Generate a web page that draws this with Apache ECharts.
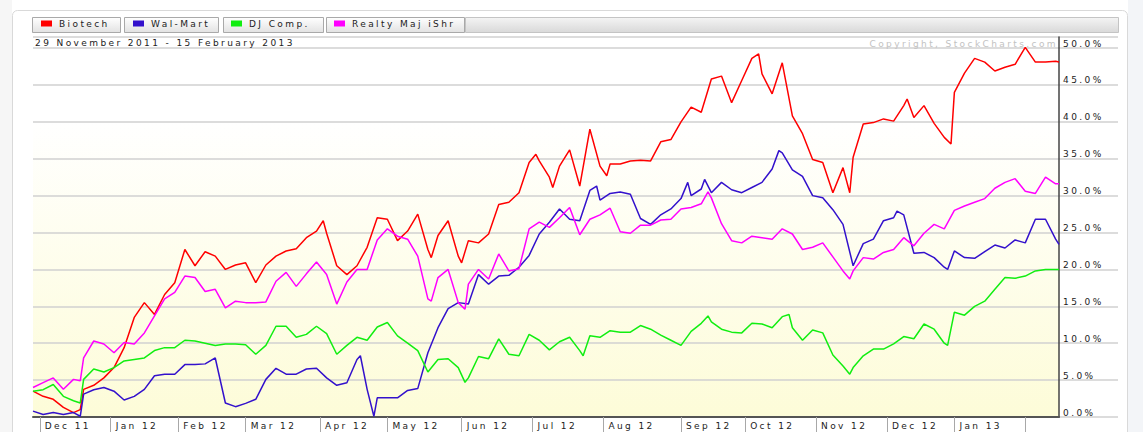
<!DOCTYPE html>
<html>
<head>
<meta charset="utf-8">
<title>Biotech vs Wal-Mart vs DJ Comp. vs Realty</title>
<script src="https://cdn.jsdelivr.net/npm/echarts@6/dist/echarts.min.js"></script>
<style>
    html, body { margin: 0; padding: 0; background: #fff; }
    #chart { width: 1143px; height: 432px; }
    /* stockcharts text is drawn wide, fake it with spacing */
    #chart text { letter-spacing: 2.4px; }
</style>
</head>
<body>
<div id="chart"></div>
<script>
// x = trading day since 29 Nov 2011, y = % change
var biotech = [[0,3.5],[3,2.8],[6,2.4],[9,1.3],[12,0.6],[14,1.0],[15,3.75],[18,4.3],[21,5.3],[24,6.7],[27,9.4],[30,13.5],[33,15.5],[36,13.9],[39,16.6],[42,18.2],[45,22.7],[48,20.5],[51,22.4],[54,21.8],[57,20.0],[60,20.6],[63,20.9],[66,18.2],[69,20.6],[72,21.8],[75,22.5],[78,22.8],[81,24.3],[84,25.2],[86,26.6],[87,24.9],[90,20.5],[93,19.3],[96,20.5],[99,23.0],[102,27.0],[105,26.8],[108,23.9],[111,25.2],[114,27.5],[117,22.7],[118,21.6],[120,24.6],[123,26.6],[126,21.8],[127,20.9],[129,23.9],[132,23.6],[135,24.8],[138,28.8],[141,29.1],[144,30.4],[147,34.5],[149,35.6],[150,34.7],[153,32.5],[154,31.1],[156,34.0],[159,36.2],[162,31.3],[165,39.0],[168,34.0],[170,32.7],[171,34.3],[174,34.3],[177,34.7],[180,34.8],[183,34.7],[186,37.3],[189,37.6],[192,40.0],[195,42.0],[198,41.3],[201,45.8],[204,46.2],[207,42.6],[210,45.6],[213,48.6],[215,49.2],[216,46.5],[219,43.8],[222,48.0],[225,40.8],[228,38.4],[231,34.9],[234,34.5],[237,30.4],[240,33.8],[242,30.4],[243,35.2],[246,39.7],[249,39.9],[252,40.4],[255,40.1],[258,42.2],[259,43.1],[261,40.6],[264,42.2],[267,39.8],[270,37.9],[272,37.0],[273,44.0],[276,46.6],[279,48.6],[282,48.1],[285,46.9],[288,47.4],[291,47.8],[294,50.1],[297,48.1],[300,48.1],[303,48.2],[304,48.1]];
var walmart = [[0,0.8],[3,0.35],[6,0.6],[9,0.35],[12,0.6],[14,0.1],[15,3.1],[18,3.7],[21,4.0],[24,3.5],[27,2.3],[30,2.8],[33,3.75],[36,5.6],[39,5.8],[42,5.8],[45,7.1],[48,7.1],[51,7.2],[54,8.0],[57,1.9],[60,1.4],[63,1.85],[66,2.4],[69,5.1],[72,6.6],[75,5.8],[78,5.8],[81,6.5],[84,6.6],[87,5.3],[90,4.3],[93,4.65],[96,7.8],[97,8.3],[99,3.75],[101,0.1],[102,2.6],[105,2.6],[108,2.6],[111,3.6],[114,3.85],[117,8.7],[120,12.1],[123,14.7],[126,15.5],[129,15.3],[132,19.3],[135,18.0],[138,19.1],[141,19.2],[144,20.3],[147,21.9],[150,24.8],[153,26.4],[156,28.2],[159,26.8],[162,26.6],[165,30.7],[167,31.3],[168,29.4],[171,30.3],[174,30.5],[177,30.2],[180,26.9],[183,26.1],[186,27.4],[189,28.2],[192,29.6],[194,31.8],[195,30.0],[198,30.9],[199,32.2],[201,30.4],[204,31.8],[207,30.8],[210,30.4],[213,31.1],[216,31.8],[219,33.6],[221,36.1],[222,35.8],[225,33.5],[228,32.6],[231,30.0],[234,29.7],[237,28.1],[240,26.1],[243,20.5],[246,23.5],[249,24.1],[252,26.6],[255,27.0],[256,27.9],[258,27.4],[261,22.2],[264,22.3],[267,21.6],[270,20.3],[271,20.0],[273,22.5],[276,21.6],[279,21.5],[282,22.4],[285,23.3],[288,22.9],[291,24.0],[294,23.6],[297,26.8],[300,26.8],[303,24.1],[304,23.4]];
var djComp = [[0,3.5],[3,3.7],[6,4.4],[9,2.8],[12,2.2],[14,1.9],[15,5.1],[18,6.5],[21,6.1],[24,6.7],[27,7.6],[30,7.8],[33,8.0],[36,9.0],[39,9.4],[42,9.4],[45,10.4],[48,10.3],[51,10.0],[54,9.7],[57,9.9],[60,9.9],[63,9.8],[66,8.5],[69,9.7],[72,12.3],[75,12.3],[78,10.8],[81,11.2],[84,12.3],[87,11.3],[90,8.5],[93,9.7],[96,10.8],[99,10.4],[102,12.2],[105,12.8],[108,11.0],[111,10.0],[114,9.0],[117,6.1],[120,7.8],[123,7.9],[126,6.7],[128,4.7],[129,5.3],[132,8.2],[135,7.9],[138,10.6],[141,8.5],[144,8.3],[147,11.2],[150,10.4],[153,9.1],[156,10.2],[159,10.8],[162,9.0],[163,8.3],[165,11.0],[168,10.8],[171,11.7],[174,11.5],[177,11.5],[180,12.4],[183,11.9],[186,11.1],[189,10.4],[192,9.7],[195,11.6],[198,12.7],[200,13.7],[201,12.9],[204,11.9],[207,11.5],[210,11.4],[213,12.7],[216,12.6],[219,12.1],[222,13.6],[224,13.9],[225,12.1],[228,10.4],[231,11.8],[234,11.4],[237,8.4],[240,6.9],[242,5.8],[243,6.7],[246,8.3],[249,9.2],[252,9.2],[255,9.9],[258,10.9],[261,10.6],[264,12.6],[267,11.9],[270,10.0],[271,9.7],[273,14.2],[276,13.8],[279,15.0],[282,15.7],[285,17.3],[288,18.9],[291,18.8],[294,19.1],[297,19.8],[300,20.0],[303,20.0],[304,20.0]];
var realty = [[0,4.0],[3,4.65],[6,5.3],[9,3.75],[12,5.1],[14,4.9],[15,8.0],[18,10.3],[21,9.9],[24,8.7],[27,10.1],[30,9.9],[33,11.4],[36,13.7],[39,16.0],[42,16.9],[45,19.1],[48,18.9],[51,17.0],[54,17.3],[57,14.8],[60,15.7],[63,15.5],[66,15.5],[69,15.6],[72,18.4],[75,19.6],[78,17.7],[81,19.4],[84,21.0],[87,19.3],[90,15.3],[93,18.3],[96,20.0],[99,20.0],[102,24.0],[105,25.5],[108,24.5],[111,24.1],[114,21.8],[117,16.0],[118,15.7],[120,18.9],[123,20.0],[126,15.5],[128,14.6],[129,18.0],[132,20.0],[135,18.7],[138,22.1],[141,19.8],[144,20.1],[147,25.5],[150,26.4],[153,25.7],[156,27.0],[159,28.4],[162,24.7],[165,26.8],[168,27.4],[171,28.3],[174,25.1],[177,24.9],[180,26.0],[183,26.0],[186,26.7],[189,26.8],[192,28.2],[195,28.4],[198,28.9],[200,30.5],[201,29.7],[204,26.2],[207,23.9],[210,23.6],[213,24.5],[216,24.3],[219,24.1],[222,25.5],[225,24.8],[228,22.7],[231,23.0],[234,23.6],[237,21.7],[240,19.8],[242,18.7],[243,19.8],[246,21.6],[249,21.4],[252,22.3],[255,22.7],[258,24.3],[261,23.2],[264,24.9],[267,26.1],[270,25.5],[273,28.0],[276,28.6],[279,29.1],[282,29.6],[285,31.0],[288,31.8],[291,32.3],[294,30.6],[297,30.3],[300,32.5],[303,31.6],[304,31.6]];

// first trading day of each month, and the month names shown
var monthStarts = [2, 23, 43, 63, 85, 105, 127, 148, 169, 192, 211, 232, 253, 273, 294];
var monthNames = ['Dec 11', 'Jan 12', 'Feb 12', 'Mar 12', 'Apr 12', 'May 12', 'Jun 12',
    'Jul 12', 'Aug 12', 'Sep 12', 'Oct 12', 'Nov 12', 'Dec 12', 'Jan 13'];
var lastDay = 304;

var seriesNames = ['Biotech', 'Wal-Mart', 'DJ Comp.', 'Realty Maj iShr'];
var seriesColors = ['#ff0000', '#3311cc', '#11ee11', '#ff00ff'];
var seriesData = [biotech, walmart, djComp, realty];

var FONT = 'DejaVu Sans';
var chart = echarts.init(document.getElementById('chart'), null, {renderer: 'svg'});

function tab(x, w) {
    return {
        type: 'rect', silent: true, z: 1,
        shape: {x: x + 0.5, y: 17.5, width: w, height: 15},
        style: {
            fill: new echarts.graphic.LinearGradient(0, 0, 0, 1, [
                {offset: 0, color: '#ffffff'}, {offset: 1, color: '#e2e2e2'}]),
            stroke: '#a9a9a9', lineWidth: 1
        }
    };
}

// one legend per tab so each can sit in its own box
var legends = [41, 133, 231, 334].map(function (x, i) {
    return {
        data: [seriesNames[i]], left: x, top: 19, padding: 0,
        selectedMode: false, icon: 'rect', itemWidth: 11, itemHeight: 6,
        textStyle: {fontFamily: FONT, fontSize: 9, color: '#222', padding: [0, 0, 0, 2]}
    };
});

var splitStyle = {show: true, lineStyle: {color: '#d0d0d0', width: 1.5}};

var option = {
    animation: false,
    backgroundColor: '#fff',
    legend: legends,
    grid: [
        {
            left: 33, top: 37, width: 1026, height: 380, show: true,
            borderWidth: 0, borderColor: 'transparent',
            backgroundColor: new echarts.graphic.LinearGradient(0, 0, 0, 1, [
                {offset: 0, color: '#ffffff'}, {offset: 0.22, color: '#ffffff'},
                {offset: 1, color: '#fdfcd8'}])
        },
        {left: 1059, top: 37, width: 59, height: 380}
    ],
    xAxis: [
        {
            type: 'value', gridIndex: 0, min: 0, max: lastDay,
            splitLine: {show: false},
            axisLine: {show: true, onZero: false, lineStyle: {color: '#555', width: 2}},
            axisTick: {show: true, customValues: monthStarts, length: 15,
                lineStyle: {color: '#a8a8a8', width: 1}},
            axisLabel: {
                customValues: monthStarts.slice(0, monthNames.length),
                formatter: function (v) { return monthNames[monthStarts.indexOf(v)]; },
                align: 'left', padding: [0, 0, 0, 5], margin: 4,
                fontFamily: FONT, fontSize: 9, color: '#222'
            }
        },
        {type: 'value', gridIndex: 1, min: 0, max: 1, show: false}
    ],
    yAxis: [
        {
            type: 'value', gridIndex: 0, position: 'right', min: 0, max: 51.5, interval: 5,
            axisLine: {show: true, onZero: false, lineStyle: {color: '#444', width: 1.5}},
            axisTick: {show: false},
            splitLine: splitStyle,
            axisLabel: {
                showMaxLabel: false, margin: 4, align: 'left', verticalAlign: 'bottom',
                fontFamily: FONT, fontSize: 9, color: '#222',
                formatter: function (v) { return v.toFixed(1) + '%'; }
            }
        },
        {
            type: 'value', gridIndex: 1, min: 0, max: 51.5, interval: 5,
            axisLine: {show: false}, axisTick: {show: false}, axisLabel: {show: false},
            splitLine: splitStyle
        }
    ],
    graphic: [
        // page edges and the panel frame
        {type: 'rect', silent: true, z: -10, shape: {x: 0, y: 0, width: 12, height: 432}, style: {fill: '#f6f6f6'}},
        {type: 'rect', silent: true, z: -10, shape: {x: 1128, y: 0, width: 15, height: 432}, style: {fill: '#f3f5f8'}},
        {type: 'rect', silent: true, z: -9, shape: {x: 12.5, y: 10.5, width: 1115, height: 440, r: 5},
            style: {fill: '#fff', stroke: '#d9d9d9', lineWidth: 1}},
        tab(32, 88), tab(124, 94), tab(223, 100), tab(326, 138),
        {
            type: 'rect', silent: true, z: 1,
            shape: {x: 465.5, y: 17.5, width: 653, height: 15},
            style: {
                fill: new echarts.graphic.LinearGradient(0, 0, 0, 1, [
                    {offset: 0, color: '#f4f4f4'}, {offset: 1, color: '#d9d9d9'}]),
                stroke: '#c4c4c4', lineWidth: 1
            }
        },
        {
            type: 'text', silent: true, z: 5, x: 35, y: 43,
            style: {text: '29 November 2011 - 15 February 2013', fill: '#222',
                font: '9px "' + FONT + '"', verticalAlign: 'middle'}
        },
        {
            type: 'text', silent: true, z: 5, x: 1058, y: 44,
            style: {text: 'Copyright, StockCharts.com', fill: '#c2c2c2',
                font: '9px "' + FONT + '"', align: 'right', verticalAlign: 'middle'}
        }
    ],
    series: seriesData.map(function (d, i) {
        return {
            name: seriesNames[i], type: 'line', xAxisIndex: 0, yAxisIndex: 0,
            data: d, showSymbol: false, color: seriesColors[i],
            lineStyle: {width: 1.5, color: seriesColors[i]}
        };
    })
};

chart.setOption(option);
</script>
</body>
</html>
